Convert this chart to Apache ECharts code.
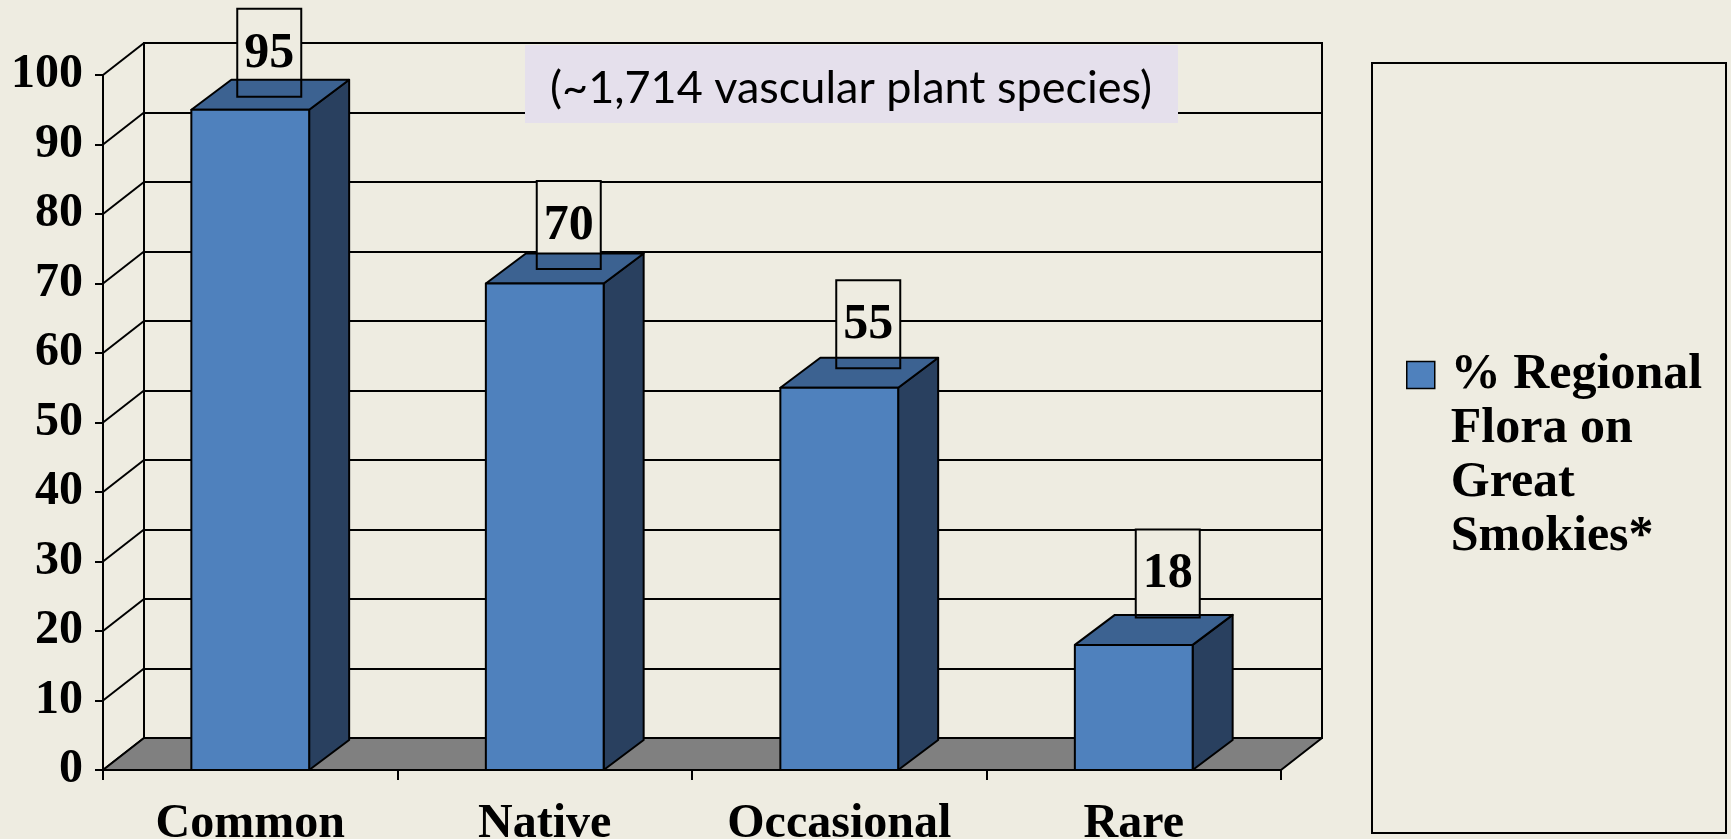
<!DOCTYPE html>
<html><head><meta charset="utf-8">
<script src="https://cdn.jsdelivr.net/npm/echarts/dist/echarts.min.js"></script>
<style>html,body{margin:0;padding:0;background:#EEECE1;overflow:hidden}#c{width:1731px;height:839px}</style>
</head><body><div id="c"></div>
<script>
// ---- data ----
const categories = ['Common', 'Native', 'Occasional', 'Rare'];
const values = [95, 70, 55, 18];
const seriesName = '% Regional\nFlora on\nGreat\nSmokies*';
const yTicks = [0, 10, 20, 30, 40, 50, 60, 70, 80, 90, 100];
const note = '(~1,714 vascular plant species)';

// ---- style ----
const BG = '#EEECE1', FRONT = '#4F81BD', TOP = '#3C6291', SIDE = '#29405F', FLOOR = '#808080';
const SERIF = '"Liberation Serif", "Times New Roman", serif';
const G = { left: 103, top: 75, width: 1178, height: 695 };
const DX = 41, DY = 32;      // wall depth
const BDX = 40, BDY = 30;    // bar depth
const BAR_RATIO = 0.4;
const LINE = { stroke: '#000', lineWidth: 2, lineJoin: 'round' };

const chart = echarts.init(document.getElementById('c'), null, { renderer: 'canvas' });

function renderWall(params, api) {
  const v = api.value(1);
  const cs = params.coordSys;
  const p = api.coord([0, v]);
  return { type: 'line', shape: { x1: cs.x, y1: p[1], x2: cs.x + DX, y2: p[1] - DY }, style: LINE };
}
function renderFloor(params, api) {
  const cs = params.coordSys;
  const y0 = api.coord([0, 0])[1];
  const xa = cs.x, xb = cs.x + cs.width;
  return { type: 'polygon', shape: { points: [[xa, y0], [xb, y0], [xb + DX, y0 - DY], [xa + DX, y0 - DY]] },
    style: Object.assign({ fill: FLOOR }, LINE) };
}
function renderBar(params, api) {
  const i = api.value(0), v = api.value(1);
  const t = api.coord([i, v]), b = api.coord([i, 0]);
  const w = api.size([1, 0])[0] * BAR_RATIO;
  const x0 = t[0] - w / 2, x1 = t[0] + w / 2, yt = t[1], yb = b[1];
  return { type: 'group', children: [
    { type: 'polygon', shape: { points: [[x1, yt], [x1 + BDX, yt - BDY], [x1 + BDX, yb - BDY], [x1, yb]] }, style: Object.assign({ fill: SIDE }, LINE) },
    { type: 'polygon', shape: { points: [[x0, yt], [x1, yt], [x1 + BDX, yt - BDY], [x0 + BDX, yt - BDY]] }, style: Object.assign({ fill: TOP }, LINE) },
    { type: 'rect', shape: { x: x0, y: yt, width: w, height: yb - yt }, style: Object.assign({ fill: FRONT }, LINE) }
  ]};
}
function labelGeom(api) {
  const i = api.value(0), v = api.value(1);
  const t = api.coord([i, v]);
  const bw = 64, bh = 88;
  const cx = t[0] + 19 + 5 * i;
  const bottom = t[1] - (13 + 1.6 * i * i);
  return { x: cx - bw / 2, y: bottom - bh, w: bw, h: bh, cx: cx, cy: bottom - bh / 2, v: v };
}
function renderLabelFill(params, api) {
  const g = labelGeom(api);
  return { type: 'rect', shape: { x: g.x, y: g.y, width: g.w, height: g.h }, style: { fill: BG } };
}
function renderLabel(params, api) {
  const g = labelGeom(api);
  return { type: 'group', children: [
    { type: 'rect', shape: { x: g.x, y: g.y, width: g.w, height: g.h }, style: { fill: 'none', stroke: '#000', lineWidth: 2 } },
    { type: 'text', style: { x: g.cx, y: g.cy + 1, text: String(g.v), fill: '#000', font: 'bold 50px ' + SERIF, align: 'center', verticalAlign: 'middle' } }
  ]};
}

const barData = values.map((v, i) => [i, v]);
const tickData = yTicks.map(v => [0, v]);

const option = {
  backgroundColor: BG,
  animation: false,
  grid: [
    Object.assign({ show: false, outerBoundsMode: 'none' }, G),
    { left: G.left + DX, top: G.top - DY, width: G.width, height: G.height, show: true, borderColor: '#000', borderWidth: 2, backgroundColor: 'transparent', outerBoundsMode: 'none' }
  ],
  xAxis: [
    { type: 'category', gridIndex: 0, data: categories,
      axisLine: { show: true, lineStyle: { color: '#000', width: 2 } },
      axisTick: { show: true, length: 10, lineStyle: { color: '#000', width: 2 } },
      axisLabel: { color: '#000', fontFamily: SERIF, fontWeight: 'bold', fontSize: 48, lineHeight: 48, margin: 31, interval: 0 },
      splitLine: { show: false } },
    { type: 'category', gridIndex: 1, data: categories, show: false }
  ],
  yAxis: [
    { type: 'value', gridIndex: 0, min: 0, max: 100, interval: 10,
      axisLine: { show: true, lineStyle: { color: '#000', width: 2 } },
      axisTick: { show: true, length: 8, lineStyle: { color: '#000', width: 2 } },
      axisLabel: { color: '#000', fontFamily: SERIF, fontWeight: 'bold', fontSize: 48, margin: 20 },
      splitLine: { show: false } },
    { type: 'value', gridIndex: 1, min: 0, max: 100, interval: 10,
      axisLine: { show: false }, axisTick: { show: false }, axisLabel: { show: false },
      splitLine: { show: true, lineStyle: { color: '#000', width: 2 } } }
  ],
  legend: {
    left: 1406, top: 186, padding: 0, orient: 'vertical', selectedMode: false,
    itemWidth: 28, itemHeight: 27,
    data: [{ name: seriesName, icon: 'rect', itemStyle: { color: FRONT, borderColor: '#000', borderWidth: 1.5 } }],
    formatter: function (name) { return '\n\n\n' + name; },
    textStyle: { color: '#000', fontFamily: SERIF, fontWeight: 'bold', fontSize: 50, lineHeight: 54, padding: [0, 0, 0, 11] }
  },
  graphic: [
    { type: 'rect', z: 50, shape: { x: 1372, y: 63, width: 354, height: 770 }, style: { fill: 'none', stroke: '#000', lineWidth: 2 } },
    { type: 'rect', z: 50, shape: { x: 525, y: 45, width: 653, height: 78 }, style: { fill: '#E5E0EC' } },
    { type: 'text', z: 51, style: { x: 851, y: 88, text: note, fill: '#000', font: '45px Lato, "Open Sans", sans-serif', align: 'center', verticalAlign: 'middle' } }
  ],
  series: [
    { type: 'custom', name: 'walls', xAxisIndex: 0, yAxisIndex: 0, z: 1, clip: false, silent: true, renderItem: renderWall, data: tickData, encode: { x: 0, y: 1 } },
    { type: 'custom', name: 'floor', xAxisIndex: 0, yAxisIndex: 0, z: 2, clip: false, silent: true, renderItem: renderFloor, data: [[0, 0]], encode: { x: 0, y: 1 } },
    { type: 'custom', name: 'labelFill', xAxisIndex: 0, yAxisIndex: 0, z: 3, clip: false, silent: true, renderItem: renderLabelFill, data: barData, encode: { x: 0, y: 1 } },
    { type: 'custom', name: seriesName, xAxisIndex: 0, yAxisIndex: 0, z: 4, clip: false, itemStyle: { color: FRONT }, renderItem: renderBar, data: barData, encode: { x: 0, y: 1 } },
    { type: 'custom', name: 'labels', xAxisIndex: 0, yAxisIndex: 0, z: 5, clip: false, silent: true, renderItem: renderLabel, data: barData, encode: { x: 0, y: 1 } }
  ]
};
chart.setOption(option);
</script></body></html>
